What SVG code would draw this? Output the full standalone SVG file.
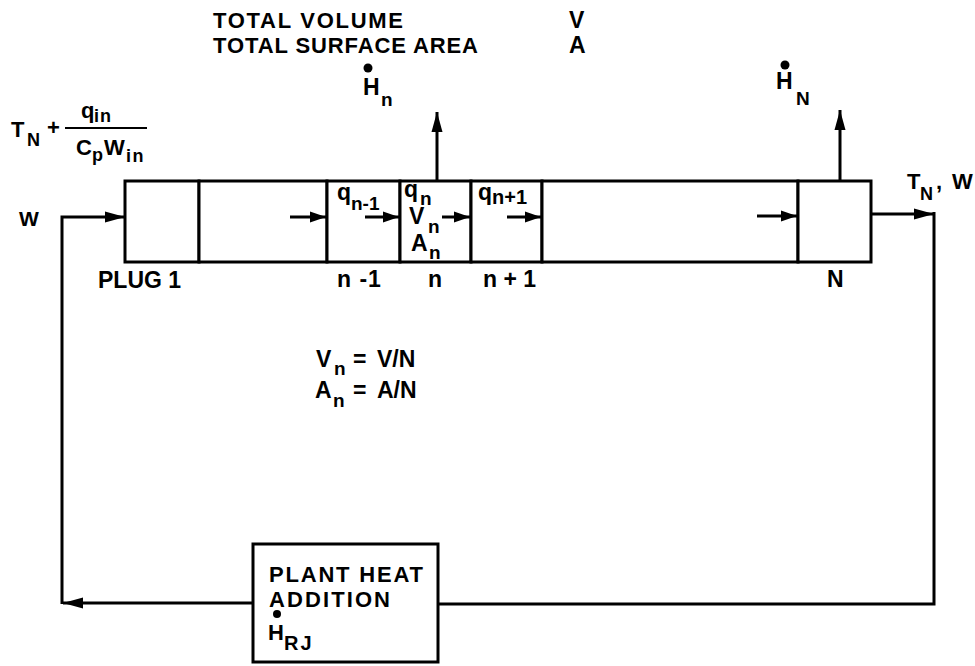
<svg xmlns="http://www.w3.org/2000/svg" width="975" height="666" viewBox="0 0 975 666">
<style>
.t{font-family:"Liberation Sans",Arial,sans-serif;font-weight:bold;fill:#000;font-size:23px}
.s{font-size:19px}
.f{font-size:22px}
.fs{font-size:18px}
.h{font-size:22px}
.ln{stroke:#000;stroke-width:3;fill:none}
.bx{stroke:#000;stroke-width:3;fill:#fff}
</style>
<defs>
<marker id="ah" markerUnits="userSpaceOnUse" markerWidth="20" markerHeight="14" viewBox="0 0 20 14" refX="20" refY="7" orient="auto">
<path d="M0,1.5 L20,7 L0,12.5 z" fill="#000"/>
</marker>
<marker id="sh" markerUnits="userSpaceOnUse" markerWidth="16" markerHeight="12" viewBox="0 0 16 12" refX="16" refY="6" orient="auto">
<path d="M0,0.5 L16,6 L0,11.5 z" fill="#000"/>
</marker>
</defs>
<rect width="975" height="666" fill="#fff"/>

<g id="header">
<text class="t h" x="213" y="28" textLength="190" lengthAdjust="spacing">TOTAL VOLUME</text>
<text class="t h" x="213" y="53" textLength="265" lengthAdjust="spacing">TOTAL SURFACE AREA</text>
<text class="t" x="569" y="28">V</text>
<text class="t" x="569" y="53">A</text>
</g>

<g id="inlet-temp">
<text class="t f" x="11" y="137">T</text>
<text class="t fs" x="27" y="146">N</text>
<text class="t f" x="47" y="135">+</text>
<line x1="65" y1="128" x2="147" y2="128" stroke="#000" stroke-width="2"/>
<text class="t f" x="81" y="118">q</text>
<text class="t fs" x="94" y="122" letter-spacing="1">in</text>
<text class="t f" x="76" y="155">C</text>
<text class="t fs" x="92" y="161">p</text>
<text class="t f" x="104" y="155">W</text>
<text class="t fs" x="126" y="162" letter-spacing="1.5">in</text>
</g>

<g id="plug-1">
<rect class="bx" x="125" y="181" width="74" height="81"/>
<text class="t" x="98" y="288">PLUG 1</text>
</g>
<g id="plug-2">
<rect class="bx" x="199" y="181" width="128" height="81"/>
</g>
<g id="plug-n-1">
<rect class="bx" x="327" y="181" width="73" height="81"/>
<text class="t" x="337" y="200">q</text>
<text class="t s" x="351" y="210">n-1</text>
<text class="t" x="337" y="287" letter-spacing="1">n -1</text>
</g>
<g id="plug-n">
<rect class="bx" x="400" y="181" width="71" height="81"/>
<text class="t" x="404" y="197">q</text>
<text class="t s" x="420" y="205">n</text>
<text class="t" x="409" y="224">V</text>
<text class="t s" x="428" y="233">n</text>
<text class="t" x="411" y="251">A</text>
<text class="t s" x="429" y="259">n</text>
<text class="t" x="428" y="287">n</text>
</g>
<g id="plug-n+1">
<rect class="bx" x="471" y="181" width="71" height="81"/>
<text class="t" x="478" y="200">q</text>
<text class="t" x="492" y="204" style="font-size:20px">n+1</text>
<text class="t" x="483" y="287">n + 1</text>
</g>
<g id="plug-n-2">
<rect class="bx" x="542" y="181" width="256" height="81"/>
</g>
<g id="plug-N">
<rect class="bx" x="798" y="181" width="73" height="81"/>
<text class="t" x="827" y="287">N</text>
</g>

<g id="plant-heat-addition">
<rect class="bx" x="253" y="544" width="185" height="118"/>
<text class="t" x="269" y="582" style="font-size:22px" textLength="154" lengthAdjust="spacing">PLANT HEAT</text>
<text class="t" x="269" y="607" style="font-size:22px" textLength="121" lengthAdjust="spacing">ADDITION</text>
<circle cx="277" cy="614" r="4"/>
<text class="t" x="268" y="640" style="font-size:22px">H</text>
<text class="t" x="284" y="650" style="font-size:20px" letter-spacing="2">RJ</text>
</g>

<g id="heat-labels">
<circle cx="368" cy="68" r="4.5"/>
<text class="t" x="363" y="95">H</text>
<text class="t s" x="381" y="106">n</text>
<circle cx="785" cy="65" r="4.5"/>
<text class="t" x="776" y="89">H</text>
<text class="t s" x="796" y="105">N</text>
<text class="t f" x="907" y="189">T</text>
<text class="t fs" x="920" y="200">N</text>
<text class="t f" x="936" y="189">,</text>
<text class="t f" x="952" y="189">W</text>
<text class="t" x="19" y="226" style="font-size:21px">W</text>
</g>

<g id="equations">
<text class="t" x="316" y="367">V</text>
<text class="t s" x="334" y="375">n</text>
<text class="t" x="353" y="367">=</text>
<text class="t" x="377" y="367">V/N</text>
<text class="t" x="315" y="398">A</text>
<text class="t s" x="333" y="407">n</text>
<text class="t" x="353" y="398">=</text>
<text class="t" x="377" y="398">A/N</text>
</g>

<g id="connectors">
<polyline class="ln" points="62,604 62,217 125,217" marker-end="url(#ah)"/>
<polyline class="ln" points="871,214 934,214" marker-end="url(#ah)"/>
<polyline class="ln" points="934,212 934,604 438,604"/>
<line class="ln" x1="253" y1="603" x2="63" y2="603" marker-end="url(#ah)"/>
<line class="ln" x1="437" y1="181" x2="437" y2="112" marker-end="url(#ah)"/>
<line class="ln" x1="840" y1="181" x2="840" y2="110" marker-end="url(#ah)"/>
<line class="ln" x1="290" y1="217" x2="326" y2="217" marker-end="url(#sh)"/>
<line class="ln" x1="365" y1="217" x2="399" y2="217" marker-end="url(#sh)"/>
<line class="ln" x1="442" y1="217" x2="470" y2="217" marker-end="url(#sh)"/>
<line class="ln" x1="507" y1="217" x2="541" y2="217" marker-end="url(#sh)"/>
<line class="ln" x1="757" y1="216" x2="797" y2="216" marker-end="url(#sh)"/>
</g>
</svg>
